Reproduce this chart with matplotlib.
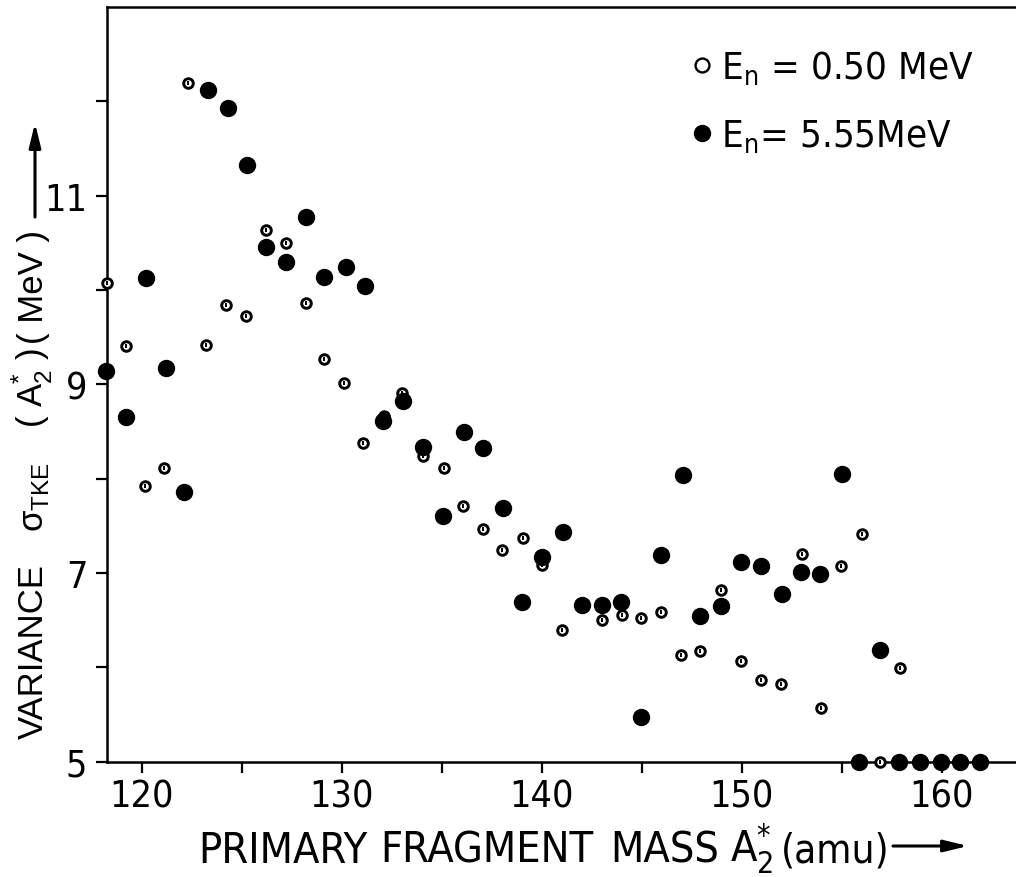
import matplotlib
matplotlib.use('Agg')
import matplotlib.pyplot as plt
from matplotlib import font_manager as fm
from matplotlib.lines import Line2D

# Okunan veriler: birincil parca kutlesi (amu) ve varyans (MeV)
mass_050 = [118.25, 119.2, 120.17, 121.13, 122.3, 123.2, 124.2, 125.2, 126.2, 127.2,
            128.2, 129.13, 130.13, 131.08, 132.1, 133.0, 134.08, 135.1, 136.08, 137.08,
            138.03, 139.05, 140.0, 141.0, 143.0, 144.0, 144.97, 145.97, 146.97, 147.9,
            148.97, 149.97, 150.97, 151.97, 153.0, 153.97, 154.97, 156.0, 156.9, 157.9]
var_050 = [10.07, 9.41, 7.92, 8.11, 12.19, 9.42, 9.84, 9.72, 10.64, 10.50,
           9.86, 9.27, 9.01, 8.38, 8.66, 8.91, 8.24, 8.11, 7.71, 7.47,
           7.24, 7.37, 7.09, 6.40, 6.50, 6.56, 6.52, 6.59, 6.13, 6.17,
           6.82, 6.07, 5.87, 5.82, 7.20, 5.57, 7.07, 7.41, 5.00, 5.99]

mass_555 = [118.2, 119.2, 120.2, 121.2, 122.1, 123.3, 124.3, 125.25, 126.2, 127.2,
            128.2, 129.13, 130.2, 131.17, 132.08, 133.05, 134.08, 135.08, 136.1, 137.05,
            138.05, 139.0, 140.0, 141.05, 142.03, 143.0, 143.97, 144.95, 145.97, 147.08,
            147.9, 148.97, 149.97, 150.97, 152.0, 152.97, 153.9, 155.0, 155.88, 156.93,
            157.88, 158.9, 159.96, 160.9, 161.9]
var_555 = [9.14, 8.65, 10.13, 9.17, 7.86, 12.12, 11.93, 11.33, 10.46, 10.30,
           10.77, 10.14, 10.24, 10.04, 8.61, 8.82, 8.34, 7.60, 8.50, 8.33,
           7.69, 6.69, 7.17, 7.43, 6.66, 6.66, 6.69, 5.47, 7.19, 8.04,
           6.54, 6.65, 7.12, 7.07, 6.78, 7.01, 6.99, 8.05, 5.00, 6.18,
           5.00, 5.00, 5.00, 5.00, 5.00]

x_major = [120, 130, 140, 150, 160]
x_minor = [125, 135, 145, 155]
y_major = [5, 7, 9, 11]
y_minor = [6, 8, 10, 12]
legend_labels = ['E$_\\mathregular{n}$ = 0.50 MeV', 'E$_\\mathregular{n}$= 5.55MeV']

W, H = 1016, 878


def narrow_font():
    # Dar (narrow / condensed) bir yazi tipi ara, yoksa DejaVu Sans
    fonts = fm.fontManager.ttflist
    for f in fonts:
        if f.name == 'Liberation Sans Narrow' and f.style == 'normal' and f.weight in (400, 'normal', 'regular'):
            return f.fname
    for name in ['DejaVu Sans', 'Noto Sans']:
        for f in fonts:
            if (f.name == name and f.style == 'normal' and f.stretch == 'condensed'
                    and f.weight in (400, 'normal', 'regular')):
                return f.fname
    return fm.findfont('DejaVu Sans')


NARROW_FILE = narrow_font()


def nfont(size):
    return fm.FontProperties(fname=NARROW_FILE, size=size)


def fp(x, y):
    # piksel -> figure fraction
    return x / W, 1 - y / H


fig = plt.figure(figsize=(W / 100, H / 100), dpi=100)
ax = fig.add_axes([106.7 / W, 1 - 762.7 / H, (W - 106.7) / W, (762.7 - 8) / H])

# Acik halkalar (0.50 MeV) once, dolu noktalar ustte
ax.plot(mass_050, var_050, linestyle='none', marker='o', ms=6.9, mew=2.1,
        mfc='white', mec='black', clip_on=False, zorder=3)
ax.plot(mass_050, var_050, linestyle='none', marker='|', ms=3.2, mew=1.4,
        color='black', clip_on=False, zorder=3)
ax.plot(mass_555, var_555, linestyle='none', marker='o', ms=11.5,
        color='black', clip_on=False, zorder=4)

ax.set_xlim(118.25, 163.71)
ax.set_ylim(5, 13)
ax.set_xticks(x_major)
ax.set_xticks(x_minor, minor=True)
ax.set_yticks(y_major)
ax.set_yticks(y_minor, minor=True)
ax.set_xticklabels([str(v) for v in x_major])
ax.set_yticklabels([str(v) for v in y_major])
for lab in ax.get_xticklabels() + ax.get_yticklabels():
    lab.set_fontproperties(nfont(27))
ax.tick_params(which='both', direction='out', length=8, width=1.6)
ax.tick_params(axis='x', which='major', pad=4)
ax.tick_params(axis='y', which='major', pad=6)

for s in ['left', 'bottom', 'top']:
    ax.spines[s].set_linewidth(1.8)
ax.spines['right'].set_visible(False)

# Lejant
handles = [
    Line2D([], [], linestyle='none', marker='o', ms=10, mew=1.7, mfc='white', mec='black'),
    Line2D([], [], linestyle='none', marker='o', ms=11.5, color='black'),
]
ax.legend(handles, legend_labels, loc='upper left', bbox_to_anchor=(0.625, 0.965),
          frameon=False, prop=nfont(27.5),
          handlelength=0.6, handletextpad=0.2, labelspacing=0.8, borderaxespad=0)

# x ekseni basligi (kelime kelime)
xl = dict(fontproperties=nfont(31), va='baseline')
fig.text(*fp(283, 863), 'PRIMARY', ha='center', **xl)
fig.text(*fp(487, 863), 'FRAGMENT', ha='center', **xl)
fig.text(*fp(665, 863), 'MASS', ha='center', **xl)
fig.text(*fp(730, 863), 'A$_\\mathregular{2}^\\mathregular{*}$', ha='left', **xl)
fig.text(*fp(781, 863), '(amu)', ha='left', fontproperties=nfont(29), va='baseline')
ax.annotate('', xy=fp(968, 847), xytext=fp(893, 847), xycoords='figure fraction',
            arrowprops=dict(arrowstyle='-|>,head_length=0.9,head_width=0.22',
                            lw=2.2, color='black', mutation_scale=16,
                            shrinkA=0, shrinkB=0))

# y ekseni basligi
yl = dict(family=['Liberation Sans', 'DejaVu Sans'], fontsize=25, rotation=90,
          rotation_mode='anchor', ha='center', va='baseline')
fig.text(*fp(43, 652), 'VARIANCE', **yl)
fig.text(*fp(43, 497), 'σ$_\\mathregular{TKE}$', **yl)
fig.text(*fp(43, 388), '( A$_\\mathregular{2}^\\mathregular{*}$ )', **yl)
fig.text(*fp(43, 287), '( MeV )', **yl)
ax.annotate('', xy=fp(35, 124), xytext=fp(35, 218), xycoords='figure fraction',
            arrowprops=dict(arrowstyle='-|>,head_length=0.9,head_width=0.22',
                            lw=2.2, color='black', mutation_scale=16,
                            shrinkA=0, shrinkB=0))

fig.savefig('out.png', dpi=100)
